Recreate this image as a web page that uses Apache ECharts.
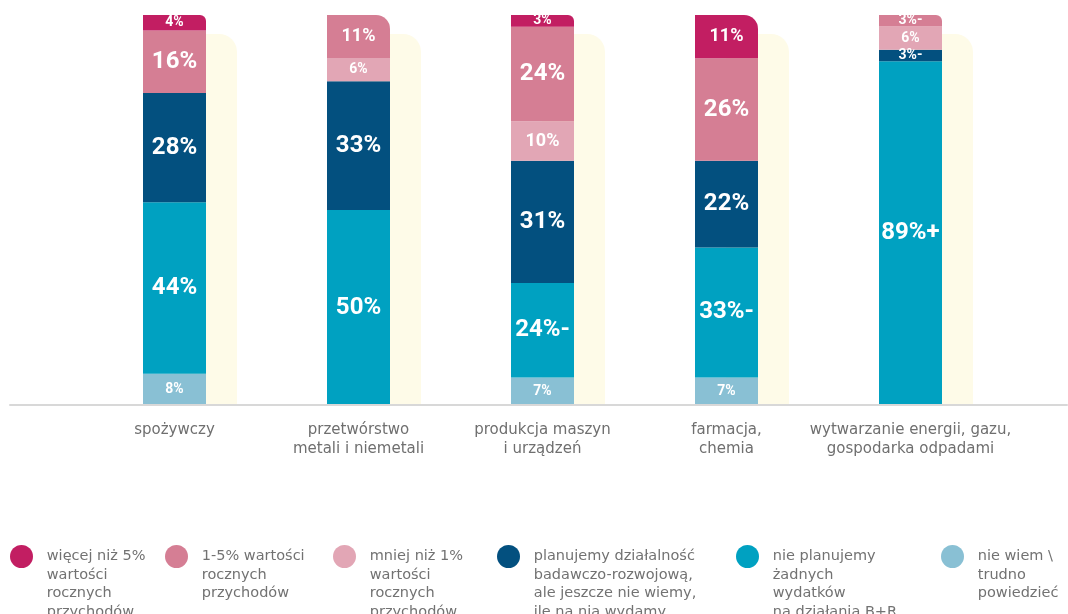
<!DOCTYPE html>
<html lang="pl">
<head>
<meta charset="utf-8">
<title>Wydatki na działalność B+R według branż</title>
<script src="https://cdn.jsdelivr.net/npm/echarts@6/dist/echarts.min.js"></script>
<style>
  html, body { margin: 0; padding: 0; background: #ffffff; }
  #chart { width: 1068px; height: 614px; }
</style>
</head>
<body>
<div id="chart"></div>
<script>
// Branże (kategorie osi X)
const categories = [
  'spożywczy',
  'przetwórstwo\nmetali i niemetali',
  'produkcja maszyn\ni urządzeń',
  'farmacja,\nchemia',
  'wytwarzanie energii, gazu,\ngospodarka odpadami'
];

// Odsetki odpowiedzi w każdej branży (%)
const moreThan5 = [4, 0, 3, 11, 0];
const from1to5 = [16, 11, 24, 26, 3];
const lessThan1 = [0, 6, 10, 0, 6];
const planning = [28, 33, 31, 22, 3];
const noPlans = [44, 50, 24, 33, 89];
const dontKnow = [8, 0, 7, 7, 0];

// Dopiski przy wartościach (np. „24%-”, „89%+”)
const from1to5Marks = ['', '', '', '', '-'];
const planningMarks = ['', '', '', '', '-'];
const noPlansMarks = ['', '', '-', '-', '+'];

// Tło paneli za słupkami
const panelFill = [100, 100, 100, 100, 100];

// Nazwy w legendzie
const legendNames = [
  'więcej niż 5%\nwartości\nrocznych\nprzychodów',
  '1-5% wartości\nrocznych\nprzychodów',
  'mniej niż 1%\nwartości\nrocznych\nprzychodów',
  'planujemy działalność\nbadawczo-rozwojową,\nale jeszcze nie wiemy,\nile na nią wydamy',
  'nie planujemy\nżadnych\nwydatków\nna działania B+R',
  'nie wiem \\\ntrudno\npowiedzieć'
];

const colors = {
  moreThan5: '#c21e62',
  from1to5: '#d57e94',
  lessThan1: '#e2a6b5',
  planning: '#03507f',
  noPlans: '#00a1c1',
  dontKnow: '#89c0d4'
};

// Kolejność od dołu słupka do góry
const stackDefs = [
  { name: legendNames[5], values: dontKnow, marks: null, color: colors.dontKnow },
  { name: legendNames[4], values: noPlans, marks: noPlansMarks, color: colors.noPlans },
  { name: legendNames[3], values: planning, marks: planningMarks, color: colors.planning },
  { name: legendNames[2], values: lessThan1, marks: null, color: colors.lessThan1 },
  { name: legendNames[1], values: from1to5, marks: from1to5Marks, color: colors.from1to5 },
  { name: legendNames[0], values: moreThan5, marks: null, color: colors.moreThan5 }
];

// Suma odpowiedzi w branży — słupki pokazują udział w 100%
const totals = categories.map((_, i) =>
  stackDefs.reduce((s, d) => s + d.values[i], 0));

// Najwyższy niezerowy segment w każdym słupku (dostaje zaokrąglony róg)
const topSeries = categories.map((_, i) => {
  let top = -1;
  stackDefs.forEach((d, k) => { if (d.values[i] > 0) top = k; });
  return top;
});

function labelSize(v) {
  return v >= 15 ? 24 : v >= 10 ? 18 : 14;
}

const labelFont = "Roboto, 'Liberation Sans', sans-serif";
const textFont = "'DejaVu Sans', 'Noto Sans', sans-serif";

const stackSeries = stackDefs.map((d, k) => ({
  name: d.name,
  type: 'bar',
  stack: 'udzial',
  xAxisIndex: 0,
  yAxisIndex: 0,
  barWidth: 63,
  z: 3,
  itemStyle: { color: d.color },
  label: {
    show: true,
    position: 'inside',
    color: '#ffffff',
    fontFamily: labelFont,
    fontWeight: 'bold',
    formatter: p => p.data.raw + '%' + p.data.mark
  },
  emphasis: { disabled: true },
  data: d.values.map((v, i) => ({
    value: v / totals[i] * 100,
    raw: v,
    mark: d.marks ? d.marks[i] : '',
    label: { show: v > 0, fontSize: labelSize(v) },
    itemStyle: {
      borderRadius: topSeries[i] === k ? [0, v >= 10 ? 14 : 6, 0, 0] : 0
    }
  }))
}));

// Legenda: osobny komponent dla każdej pozycji; puste wiersze na początku
// sprawiają, że pierwszy wiersz opisu stoi na wysokości kółka
const legendLineH = 18.5;
const legendIconCenterY = 556.5;
const legendCenters = [21.5, 176.5, 344.5, 508.5, 747.5, 952.5];
const legends = legendNames.map((name, i) => {
  const lines = name.split('\n').length;
  return {
    data: [name],
    left: legendCenters[i] - 11.5,
    top: legendIconCenterY - (2 * lines - 1) * legendLineH / 2,
    padding: 0,
    icon: 'circle',
    itemWidth: 40.5,
    itemHeight: 23,
    selectedMode: false,
    formatter: n => '\n'.repeat(lines - 1) + n,
    textStyle: {
      fontFamily: textFont,
      fontSize: 14.5,
      color: '#727272',
      lineHeight: legendLineH
    }
  };
});

const chart = echarts.init(document.getElementById('chart'), null, { renderer: 'canvas' });

chart.setOption({
  animation: false,
  backgroundColor: '#ffffff',
  legend: legends,
  grid: [
    { left: 82.5, right: 65.5, top: 15, bottom: 209 },
    { left: 113.5, right: 34.5, top: 34, bottom: 209 },
    { left: 10, right: 1, top: 15, bottom: 209 }
  ],
  xAxis: [
    {
      type: 'category',
      gridIndex: 0,
      data: categories,
      axisLine: { show: false },
      axisTick: { show: false },
      axisLabel: {
        interval: 0,
        margin: 16,
        fontFamily: textFont,
        fontSize: 15,
        lineHeight: 19,
        color: '#6f6f6f'
      }
    },
    {
      type: 'category',
      gridIndex: 1,
      data: categories,
      show: false
    },
    {
      type: 'category',
      gridIndex: 2,
      data: [''],
      z: 5,
      axisLine: { show: true, lineStyle: { color: '#d8d8d8', width: 2 } },
      axisTick: { show: false },
      axisLabel: { show: false }
    }
  ],
  yAxis: [
    { type: 'value', gridIndex: 0, min: 0, max: 100, show: false, splitLine: { show: false } },
    { type: 'value', gridIndex: 1, min: 0, max: 100, show: false, splitLine: { show: false } },
    { type: 'value', gridIndex: 2, min: 0, max: 100, show: false, splitLine: { show: false } }
  ],
  series: [
    {
      name: 'tło',
      type: 'bar',
      xAxisIndex: 1,
      yAxisIndex: 1,
      barWidth: 63,
      z: 1,
      silent: true,
      itemStyle: { color: '#fefbe8', borderRadius: [0, 18, 0, 0] },
      data: panelFill
    }
  ].concat(stackSeries)
});
</script>
</body>
</html>
